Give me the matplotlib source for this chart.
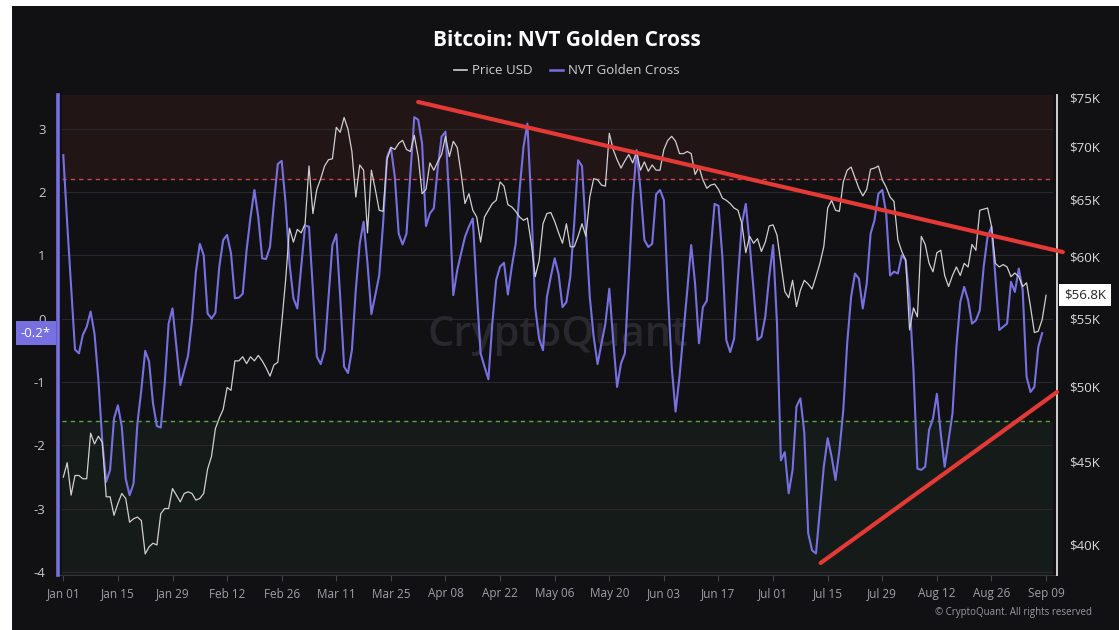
import matplotlib
matplotlib.use('Agg')
import matplotlib.pyplot as plt
import matplotlib.dates as mdates
from matplotlib.patches import Rectangle
from matplotlib.ticker import FixedLocator, NullLocator
import pandas as pd

plt.rcParams['font.family'] = ['Open Sans', 'DejaVu Sans']

# NVT Golden Cross (left axis), daily from 2024-01-01
nvt = [
    2.58, 1.5, 0.5, -0.49, -0.55, -0.26, -0.13, 0.11, -0.24, -0.97,
    -1.95, -2.58, -2.39, -1.58, -1.37, -1.71, -2.53, -2.79, -2.61, -1.66,
    -1.13, -0.51, -0.68, -1.34, -1.7, -1.72, -1.03, -0.08, 0.16, -0.45,
    -1.05, -0.82, -0.58, -0.03, 0.74, 1.18, 1.0, 0.08, 0.0, 0.09,
    0.82, 1.24, 1.32, 1.03, 0.32, 0.33, 0.39, 1.08, 1.6, 2.03,
    1.6, 0.95, 0.94, 1.13, 1.82, 2.44, 2.49, 1.82, 0.87, 0.32,
    0.16, 0.82, 1.47, 1.45, 0.45, -0.6, -0.72, -0.5, 0.34, 1.16,
    1.33, 0.34, -0.76, -0.86, -0.5, 0.45, 1.18, 1.53, 0.87, 0.07,
    0.37, 0.68, 1.5, 2.55, 2.7, 2.24, 1.34, 1.17, 1.34, 2.29,
    3.18, 3.14, 2.76, 1.46, 1.66, 1.74, 2.37, 2.87, 2.95, 1.82,
    0.37, 0.76, 1.03, 1.29, 1.45, 1.58, 0.45, -0.55, -0.76, -0.96,
    -0.08, 0.61, 0.82, 0.88, 0.38, 0.82, 1.18, 2.03, 2.71, 3.08,
    1.82, 0.18, -0.32, -0.5, 0.34, 0.66, 0.95, 0.7, 0.18, 0.26,
    0.66, 1.5, 2.5, 2.41, 1.39, 0.34, -0.29, -0.72, -0.39, -0.08,
    0.47, -0.34, -1.08, -0.71, -0.55, 0.66, 1.87, 2.66, 2.03, 1.24,
    1.13, 1.18, 1.96, 2.03, 1.87, 0.45, -0.76, -1.47, -0.92, -0.24,
    0.45, 1.16, 0.55, -0.39, 0.18, 0.28, 1.08, 1.81, 1.78, 0.97,
    -0.34, -0.53, -0.32, 0.66, 1.5, 1.81, 1.18, 0.45, -0.34, -0.29,
    0.03, 0.66, 1.16, -0.08, -2.24, -2.11, -2.76, -2.39, -1.39, -1.26,
    -1.8, -3.39, -3.66, -3.71, -3.03, -2.34, -1.89, -2.18, -2.55, -2.08,
    -1.45, -0.39, 0.34, 0.71, 0.63, 0.16, 0.55, 1.34, 1.55, 1.97,
    2.03, 1.66, 0.68, 0.74, 0.71, 1.0, 0.92, 0.29, -0.82, -2.37,
    -2.39, -2.34, -1.76, -1.58, -1.19, -1.82, -2.34, -1.92, -1.5, -0.45,
    0.26, 0.5, 0.29, -0.08, -0.03, 0.13, 0.82, 1.29, 1.45, 0.66,
    -0.18, -0.13, -0.08, 0.58, 0.42, 0.79, 0.45, -0.92, -1.16, -1.08,
    -0.45, -0.23,
]

# Price USD in thousands (right axis, log scale)
price_k = [
    44.0, 44.9, 42.9, 44.1, 44.1, 43.9, 43.9, 46.8, 46.1, 46.6,
    46.2, 42.8, 42.8, 41.7, 42.4, 43.0, 42.7, 41.3, 41.5, 41.6,
    41.4, 39.5, 39.9, 40.1, 40.0, 41.8, 42.1, 42.1, 43.3, 42.9,
    42.5, 43.0, 43.1, 43.0, 42.6, 42.7, 43.0, 44.5, 45.3, 47.1,
    47.8, 48.4, 49.9, 49.7, 51.8, 51.8, 52.1, 51.6, 52.1, 51.8,
    52.2, 51.8, 51.3, 50.7, 51.5, 51.7, 54.6, 58.0, 62.4, 61.2,
    62.3, 62.0, 62.8, 68.1, 63.7, 65.9, 66.9, 68.1, 68.7, 68.8,
    71.9, 71.4, 72.9, 71.7, 69.5, 65.2, 68.2, 67.7, 62.0, 67.7,
    65.9, 64.0, 63.9, 68.7, 69.9, 69.7, 70.3, 70.6, 69.7, 69.5,
    71.1, 69.0, 65.5, 65.9, 68.4, 67.7, 68.5, 69.2, 71.0, 69.0,
    70.5, 69.9, 67.4, 64.6, 65.5, 64.0, 63.4, 61.2, 63.4, 64.0,
    64.6, 64.9, 66.6, 66.2, 64.5, 64.3, 63.9, 63.4, 63.1, 63.3,
    61.1, 58.3, 59.6, 62.8, 63.7, 63.8, 63.0, 62.0, 61.1, 62.8,
    60.8, 60.8, 61.7, 62.8, 61.7, 65.2, 66.9, 66.8, 66.3, 66.2,
    71.3, 69.7, 68.7, 67.9, 68.6, 69.2, 68.4, 69.5, 67.7, 68.5,
    67.6, 68.2, 67.7, 67.7, 69.7, 70.6, 71.0, 70.5, 69.3, 69.3,
    69.5, 69.3, 67.3, 68.0, 66.8, 66.0, 66.3, 66.4, 65.9, 65.1,
    64.9, 64.6, 64.2, 64.0, 62.8, 60.3, 61.7, 61.1, 61.5, 60.4,
    61.2, 62.6, 62.7, 61.8, 59.4, 57.1, 56.6, 58.0, 55.9, 57.2,
    58.0, 57.7, 57.3, 58.3, 59.4, 60.8, 64.2, 64.9, 64.0, 63.9,
    66.6, 67.7, 68.0, 67.0, 66.0, 65.3, 65.9, 67.8, 67.9, 68.1,
    66.8, 66.1, 65.2, 64.8, 61.4, 60.4, 59.7, 54.1, 55.8, 55.1,
    61.7, 61.0, 59.4, 58.7, 60.3, 60.5, 58.4, 57.5, 58.4, 59.1,
    58.4, 59.4, 59.1, 61.0, 60.5, 64.0, 64.1, 64.2, 62.6, 59.4,
    59.1, 59.3, 59.1, 58.3, 58.6, 58.3, 57.5, 57.8, 55.9, 53.9,
    54.0, 54.9, 56.8,
]

dates_price = pd.date_range('2024-01-01', periods=len(price_k), freq='D')
dates_nvt = dates_price[:len(nvt)]

price_ticks = [40, 45, 50, 55, 60, 65, 70, 75]
nvt_ticks = [-4, -3, -2, -1, 0, 1, 2, 3]
upper_band = 2.2
lower_band = -1.62

BG = '#111114'
PURPLE = '#7770e0'
PRICE_C = '#cfcfcf'
day0 = pd.Timestamp('2024-01-01')

fig = plt.figure(figsize=(11.19, 6.3), dpi=100, facecolor='white')
# dark panel (thin white border on left and top like the screenshot)
fig.patches.append(Rectangle((12 / 1119, 0), 1, 1 - 6 / 630, transform=fig.transFigure,
                             facecolor=BG, edgecolor='none', zorder=-10))

ax = fig.add_axes([58 / 1119, 1 - 575 / 630, 999 / 1119, 480 / 630])
ax.set_facecolor(BG)
ax2 = ax.twinx()

ax.set_xlim(day0 - pd.Timedelta(days=1.36), day0 + pd.Timedelta(days=254.8))
ax.set_ylim(-4.05, 3.53)

# zones
ax.axhspan(upper_band, 3.53, xmin=0.004, xmax=0.995, color='#221516', zorder=0)
ax.axhspan(-4.05, lower_band, xmin=0.004, xmax=0.995, color='#151b18', zorder=0)
for t in nvt_ticks:
    ax.axhline(t, xmin=0.004, xmax=0.995, color='#28282d', lw=0.8, zorder=0.5)
ax.axhline(upper_band, xmin=0.004, xmax=0.995, color='#c8434c', ls=(0, (3, 3)), lw=1.0, zorder=1)
ax.axhline(lower_band, xmin=0.004, xmax=0.995, color='#62a046', ls=(0, (3, 3)), lw=1.0, zorder=1)

# watermark
ax.text(0.5, 0.5, 'CryptoQuant', transform=ax.transAxes, ha='center', va='center',
        fontsize=30, color='#28282e', fontweight='semibold', zorder=0.6)

# series
ax.plot(dates_nvt, nvt, color=PURPLE, lw=1.5, zorder=3)
ax2.plot(dates_price, price_k, color=PRICE_C, lw=0.9, zorder=3)

ax2.set_yscale('log')
ax2.set_ylim(38.35, 75.24)
ax2.yaxis.set_major_locator(FixedLocator(price_ticks))
ax2.yaxis.set_minor_locator(NullLocator())
ax2.set_yticklabels([f'${p}K' for p in price_ticks])

ax.set_yticks(nvt_ticks)
ax.set_yticklabels([str(t) for t in nvt_ticks])

ticks = pd.date_range('2024-01-01', '2024-09-09', freq='14D')
ax.set_xticks(ticks)
ax.xaxis.set_major_formatter(mdates.DateFormatter('%b %d'))

ax.tick_params(axis='y', length=0, pad=9, labelsize=9.5, labelcolor='#c8c8c8')
ax.tick_params(axis='x', length=4, color='#444448', pad=5, labelsize=8.5, labelcolor='#a0a0a4')
ax2.tick_params(axis='y', length=0, pad=9, labelsize=9.5, labelcolor='#d8d8d8')

for a in (ax, ax2):
    for s in a.spines.values():
        s.set_visible(False)
ax2.spines['left'].set_visible(True)
ax2.spines['left'].set_color(PURPLE)
ax2.spines['left'].set_linewidth(2.6)
ax2.spines['right'].set_visible(True)
ax2.spines['right'].set_color('#d0d0d0')
ax2.spines['right'].set_linewidth(1.4)
ax.spines['bottom'].set_visible(True)
ax.spines['bottom'].set_color('#333338')

# hand-drawn red trend lines
ax2.plot([day0 + pd.Timedelta(days=91.0), day0 + pd.Timedelta(days=256.3)], [3.42, 1.05],
         color='#e53935', lw=3, solid_capstyle='round', transform=ax.transData,
         clip_on=False, zorder=6)
ax2.plot([day0 + pd.Timedelta(days=194.2), day0 + pd.Timedelta(days=254.8)], [-3.86, -1.16],
         color='#e53935', lw=3, solid_capstyle='round', transform=ax.transData,
         clip_on=False, zorder=6)

# last value labels
ax.annotate(f'{nvt[-1]:.1f}*', xy=(0, nvt[-1]), xycoords=('axes fraction', 'data'),
            xytext=(-5, 0), textcoords='offset points', ha='right', va='center',
            fontsize=9.5, color='white',
            bbox=dict(boxstyle='square,pad=0.4', fc=PURPLE, ec='none'), annotation_clip=False)
ax2.annotate(f'${price_k[-1]:.1f}K', xy=(1, price_k[-1]), xycoords=('axes fraction', 'data'),
             xytext=(5, 0), textcoords='offset points', ha='left', va='center',
             fontsize=9.5, color='#222222',
             bbox=dict(boxstyle='square,pad=0.35', fc='white', ec='none'), annotation_clip=False)

# title and legend
fig.text(0.5064, 1 - 41 / 630, 'Bitcoin: NVT Golden Cross', ha='center', va='center',
         fontsize=15, fontweight='bold', color='white')
h1, = ax.plot([], [], color=PRICE_C, lw=1.2)
h2, = ax.plot([], [], color=PURPLE, lw=1.8)
fig.legend([h1, h2], ['Price USD', 'NVT Golden Cross'], loc='center',
           bbox_to_anchor=(0.5064, 1 - 71 / 630), ncol=2, frameon=False,
           handlelength=1.0, handletextpad=0.4, columnspacing=1.3,
           fontsize=9.5, labelcolor='#cfcfcf')

fig.text(1092 / 1119, 1 - 612 / 630, '\u00a9 CryptoQuant. All rights reserved', ha='right',
         va='center', fontsize=7, color='#9a9a9e')

plt.savefig('out.png', dpi=100, facecolor=fig.get_facecolor())
